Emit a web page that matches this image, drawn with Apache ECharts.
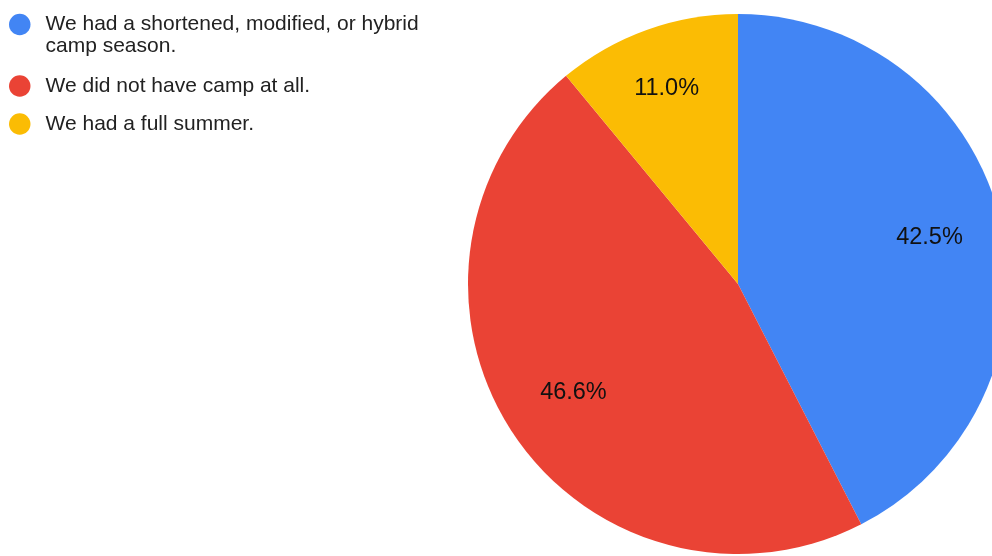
<!DOCTYPE html>
<html>
<head>
<meta charset="utf-8">
<style>
  html, body { margin: 0; padding: 0; background: #fff; }
  #chart { width: 992px; height: 556px; }
</style>
<script src="https://cdn.jsdelivr.net/npm/echarts@6/dist/echarts.min.js"></script>
</head>
<body>
<div id="chart"></div>
<script>
// Summer camp season survey responses
const categories = [
  'We had a shortened, modified, or hybrid camp season.',
  'We did not have camp at all.',
  'We had a full summer.'
];
// legend wording, broken into display lines
const legendLines = [
  ['We had a shortened, modified, or hybrid', 'camp season.'],
  ['We did not have camp at all.'],
  ['We had a full summer.']
];
const shares = [42.5, 46.6, 11.0];
const colors = ['#4285F4', '#EA4335', '#FBBC04'];

const FONT = '"Liberation Sans", Arial, sans-serif';
const CENTER = [738, 284];
const RADIUS = 270;

const slices = categories.map((name, i) => ({
  name: name,
  value: shares[i],
  itemStyle: { color: colors[i] }
}));

// Multi-line entries get a leading blank line so the marker lines up
// with the first line of text instead of the middle of the block.
function legendText(name) {
  const lines = legendLines[categories.indexOf(name)];
  if (lines.length === 1) return lines[0];
  return '\n' + lines.join('\n');
}

// One legend block per entry so each row sits at its own height
const legendTops = [-8.5, 75, 113];
const legends = categories.map((name, i) => ({
  left: 9,
  top: legendTops[i],
  orient: 'vertical',
  icon: 'circle',
  itemWidth: 21.5,
  itemHeight: 21.5,
  padding: 0,
  selectedMode: false,
  data: [name],
  formatter: legendText,
  textStyle: {
    color: '#222',
    fontFamily: FONT,
    fontSize: 21,
    lineHeight: 22,
    padding: [0, 0, 0, 10]
  }
}));

const chart = echarts.init(document.getElementById('chart'), null, { renderer: 'canvas' });
chart.setOption({
  animation: false,
  legend: legends,
  series: [
    {
      type: 'pie',
      center: CENTER,
      radius: RADIUS,
      startAngle: 90,
      clockwise: true,
      label: { show: false },
      labelLine: { show: false },
      emphasis: { disabled: true },
      itemStyle: { borderWidth: 0 },
      data: slices
    },
    {
      // transparent ring that carries the percentage labels further out
      type: 'pie',
      center: CENTER,
      radius: [118, RADIUS],
      startAngle: 90,
      clockwise: true,
      silent: true,
      emphasis: { disabled: true },
      itemStyle: { color: 'rgba(0,0,0,0)', borderWidth: 0 },
      label: {
        show: true,
        position: 'inside',
        color: '#111',
        fontFamily: FONT,
        fontSize: 23.5,
        formatter: p => p.value.toFixed(1) + '%'
      },
      labelLine: { show: false },
      // the narrow slice's label sits a little further out along its radius
      labelLayout: function (params) {
        if (params.dataIndex !== 2) return {};
        const r = params.rect;
        const x = r.x + r.width / 2 - CENTER[0];
        const y = r.y + r.height / 2 - CENTER[1];
        const k = 11 / Math.hypot(x, y);
        return { dx: x * k, dy: y * k };
      },
      data: categories.map((name, i) => ({ name: name, value: shares[i] }))
    }
  ]
});
</script>
</body>
</html>
